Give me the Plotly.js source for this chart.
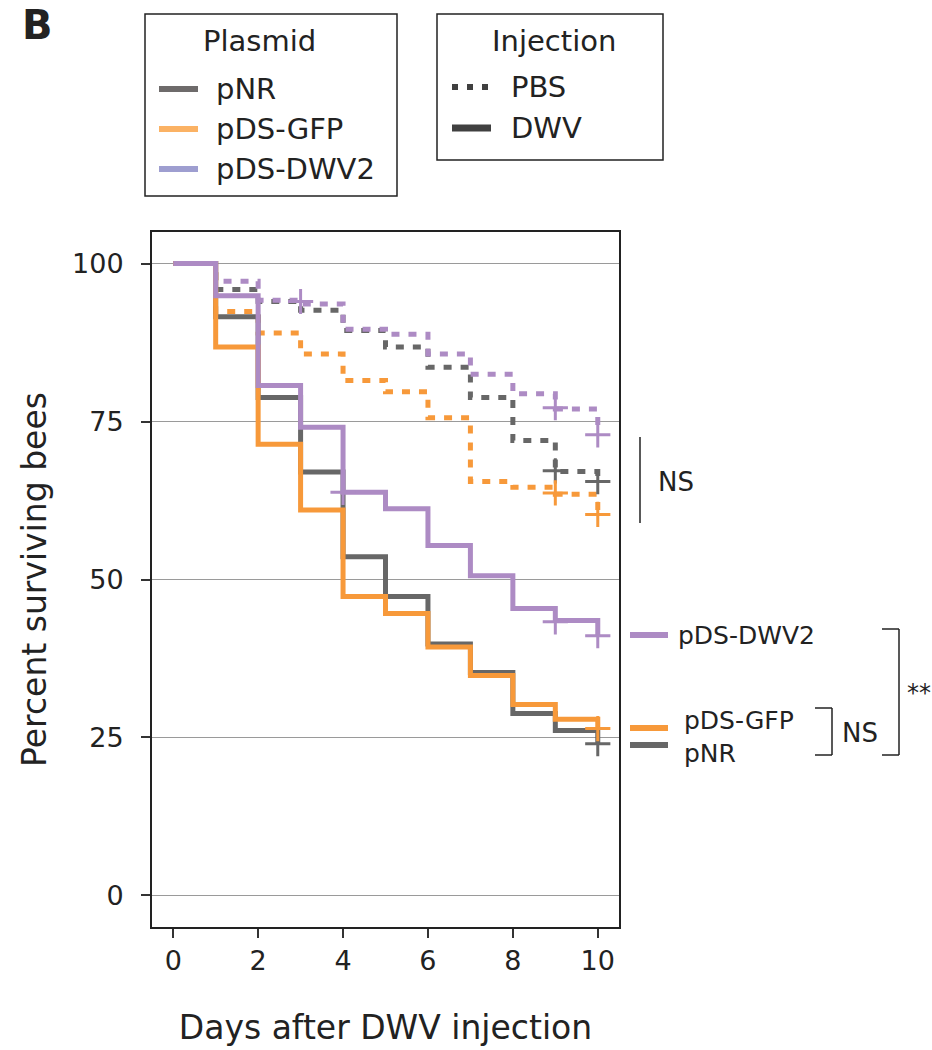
<!DOCTYPE html>
<html>
<head>
<meta charset="utf-8">
<script src="https://cdn.plot.ly/plotly-3.0.1.min.js"></script>
<style>
  html, body { margin: 0; padding: 0; background: #fff; }
  #chart { width: 932px; height: 1050px; }
</style>
</head>
<body>
<div id="chart"></div>
<script>
// ---------------- data ----------------
const days = [0, 1, 2, 3, 4, 5, 6, 7, 8, 9, 10];

// DWV injection (solid lines)
const pNR_DWV      = [100, 91.6, 78.8, 67.0, 53.6, 47.3, 39.8, 35.3, 28.8, 26.1, 24.0];
const pDSGFP_DWV   = [100, 86.8, 71.4, 61.0, 47.3, 44.6, 39.3, 34.8, 30.2, 27.9, 26.4];
const pDSDWV2_DWV  = [100, 94.9, 80.7, 74.1, 63.8, 61.2, 55.4, 50.6, 45.4, 43.5, 41.1];

// PBS injection (dotted lines)
const pNR_PBS      = [100, 95.9, 94.0, 92.6, 89.4, 86.8, 83.6, 78.8, 72.0, 67.1, 65.5];
const pDSGFP_PBS   = [100, 92.4, 89.0, 85.7, 81.5, 79.7, 75.6, 65.5, 64.6, 63.5, 60.3];
const pDSDWV2_PBS  = [100, 97.2, 94.2, 93.6, 89.6, 88.8, 85.7, 82.5, 79.4, 77.0, 72.9];

// censoring marks (+)
const pNR_PBS_censorDays      = [9, 10];
const pNR_PBS_censorVals      = [67.2, 65.5];
const pDSGFP_PBS_censorDays   = [9, 10];
const pDSGFP_PBS_censorVals   = [63.7, 60.3];
const pDSDWV2_PBS_censorDays  = [3, 9, 10];
const pDSDWV2_PBS_censorVals  = [94.0, 77.2, 72.9];
const pNR_DWV_censorDays      = [10];
const pNR_DWV_censorVals      = [24.0];
const pDSGFP_DWV_censorDays   = [10];
const pDSGFP_DWV_censorVals   = [26.4];
const pDSDWV2_DWV_censorDays  = [4, 9, 10];
const pDSDWV2_DWV_censorVals  = [63.8, 43.3, 41.1];

const xTicks = [0, 2, 4, 6, 8, 10];
const yTicks = [0, 25, 50, 75, 100];

const plasmidLabels   = ['pNR', 'pDS-GFP', 'pDS-DWV2'];
const injectionLabels = ['PBS', 'DWV'];
const rightLabels     = ['pDS-DWV2', 'pDS-GFP', 'pNR'];

// ---------------- styles ----------------
const FONT = 'DejaVu Sans, Verdana, sans-serif';
const cGray = '#676767', cOrange = '#F7993A', cPurple = '#AD8BC4';
const legGray = '#6E6B6B', legOrange = '#FBB264', legPurple = '#9E9ED0';
const DOT = '8px,9px';

function stepTrace(y, color, dash) {
  return { x: days, y: y, mode: 'lines', type: 'scatter', showlegend: false, hoverinfo: 'skip',
           line: { shape: 'hv', color: color, width: 5, dash: dash } };
}
function censorTrace(x, y, color) {
  return { x: x, y: y, mode: 'markers', type: 'scatter', showlegend: false, hoverinfo: 'skip',
           marker: { symbol: 'cross-thin', size: 18, line: { color: color, width: 3 } } };
}

const traces = [
  stepTrace(pNR_PBS, cGray, DOT),
  stepTrace(pDSGFP_PBS, cOrange, DOT),
  stepTrace(pDSDWV2_PBS, cPurple, DOT),
  stepTrace(pNR_DWV, cGray, 'solid'),
  stepTrace(pDSGFP_DWV, cOrange, 'solid'),
  stepTrace(pDSDWV2_DWV, cPurple, 'solid'),
  censorTrace(pNR_PBS_censorDays, pNR_PBS_censorVals, cGray),
  censorTrace(pDSGFP_PBS_censorDays, pDSGFP_PBS_censorVals, cOrange),
  censorTrace(pDSDWV2_PBS_censorDays, pDSDWV2_PBS_censorVals, cPurple),
  censorTrace(pNR_DWV_censorDays, pNR_DWV_censorVals, cGray),
  censorTrace(pDSGFP_DWV_censorDays, pDSGFP_DWV_censorVals, cOrange),
  censorTrace(pDSDWV2_DWV_censorDays, pDSDWV2_DWV_censorVals, cPurple)
];

// ---------------- pixel -> paper helpers (decorations only) ----------------
const L = 152, R = 619, T = 232, B = 927;
const X = p => (p - L) / (R - L);
const Y = p => (B - p) / (B - T);

const shapes = [];
const annotations = [];
function line(x0, y0, x1, y1, color, width, dash) {
  shapes.push({ type: 'line', xref: 'paper', yref: 'paper', x0: X(x0), y0: Y(y0), x1: X(x1), y1: Y(y1),
                line: { color: color, width: width, dash: dash || 'solid' } });
}
function rect(x0, y0, x1, y1) {
  shapes.push({ type: 'rect', xref: 'paper', yref: 'paper', x0: X(x0), y0: Y(y0), x1: X(x1), y1: Y(y1),
                line: { color: '#222', width: 1.5 }, fillcolor: 'rgba(0,0,0,0)' });
}
function text(t, x, y, size, anchor, opts) {
  annotations.push(Object.assign({ text: t, xref: 'paper', yref: 'paper', x: X(x), y: Y(y),
    xanchor: anchor || 'left', yanchor: 'middle', showarrow: false,
    font: { family: FONT, size: size, color: '#222' } }, opts || {}));
}

// panel letter
text('<b>B</b>', 20, 25, 40, 'left');

// Plasmid legend
rect(145, 14, 397, 196);
text('Plasmid', 259, 41, 29, 'center');
const plasmidColors = [legGray, legOrange, legPurple];
const legY = [89, 129, 169];
plasmidLabels.forEach((lab, i) => {
  line(159, legY[i], 198, legY[i], plasmidColors[i], 6);
  text(lab, 214, legY[i], 29, 'left');
});

// Injection legend
rect(437, 14, 663, 160);
text('Injection', 554, 41, 29, 'center');
line(452, 87, 492, 87, '#404040', 6, '6px,9px');
line(452, 128, 491, 128, '#404040', 7);
text(injectionLabels[0], 509, 87, 29, 'left');
text(injectionLabels[1], 509, 128, 29, 'left');

// right side significance annotations
line(640, 437, 640, 523, '#222', 1.5);
text('NS', 656, 482, 26, 'left');

line(630, 635, 668, 635, cPurple, 6);
text(rightLabels[0], 676, 635, 25, 'left');
line(630, 728, 668, 728, cOrange, 6);
text(rightLabels[1], 682, 720, 25, 'left');
line(630, 745, 668, 745, cGray, 6);
text(rightLabels[2], 682, 753, 25, 'left');

// small bracket
line(815, 708, 832, 708, '#222', 1.5);
line(832, 708, 832, 755, '#222', 1.5);
line(815, 755, 832, 755, '#222', 1.5);
text('NS', 840, 733, 26, 'left');

// big bracket
line(882, 629, 899, 629, '#222', 1.5);
line(899, 629, 899, 755, '#222', 1.5);
line(882, 755, 899, 755, '#222', 1.5);
text('**', 905, 693, 24, 'left');

const layout = {
  width: 932, height: 1050,
  margin: { l: L, r: 932 - R, t: T, b: 1050 - B, pad: 0 },
  paper_bgcolor: '#fff', plot_bgcolor: '#fff',
  font: { family: FONT, color: '#222' },
  showlegend: false,
  xaxis: {
    range: [-0.5, 10.5], tickvals: xTicks, ticktext: xTicks.map(String),
    ticks: 'outside', ticklen: 9, tickwidth: 2, tickcolor: '#333',
    showline: true, linecolor: '#222', linewidth: 2, mirror: true,
    showgrid: false, zeroline: false,
    tickfont: { family: FONT, size: 27, color: '#222' },
    title: { text: 'Days after DWV injection', font: { family: FONT, size: 33, color: '#222' }, standoff: 40 }
  },
  yaxis: {
    range: [-5, 105], tickvals: yTicks, ticktext: yTicks.map(String),
    ticks: 'outside', ticklen: 9, tickwidth: 2, tickcolor: '#333',
    ticklabelstandoff: 12,
    showline: true, linecolor: '#222', linewidth: 2, mirror: true,
    showgrid: true, gridcolor: '#9a9a9a', gridwidth: 1.2, zeroline: false,
    tickfont: { family: FONT, size: 27, color: '#222' },
    title: { text: 'Percent surviving bees', font: { family: FONT, size: 33, color: '#222' }, standoff: 16 }
  },
  shapes: shapes,
  annotations: annotations
};

Plotly.newPlot('chart', traces, layout, { staticPlot: true, displayModeBar: false });
</script>
</body>
</html>
